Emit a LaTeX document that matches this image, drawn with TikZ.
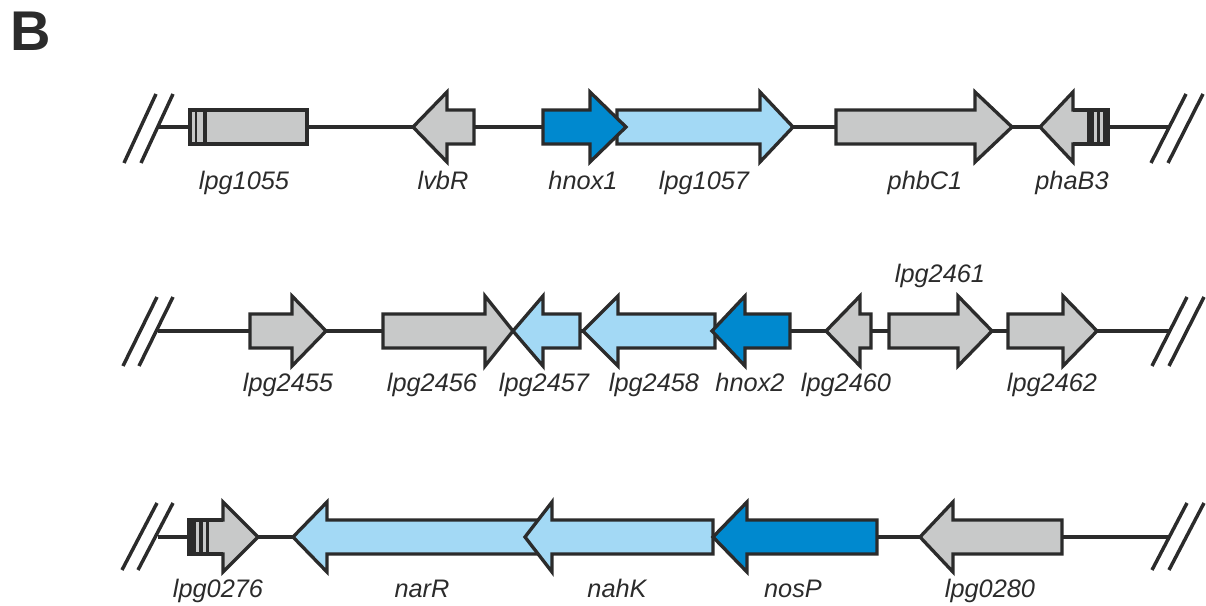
\documentclass[tikz,border=0pt]{standalone}
\usepackage{fontspec}
\setmainfont{Liberation Sans}
\definecolor{edge}{HTML}{2B2B2B}
\definecolor{ggray}{HTML}{C8C9C9}
\definecolor{lblue}{HTML}{A3D9F5}
\definecolor{dblue}{HTML}{0089CF}
\newcommand\geneR[6]{% name, x-start, head base, tip, y, fill
  \draw[genebox, fill=#6] (#2,{#5-17}) -- (#3,{#5-17}) -- (#3,{#5-35}) -- (#4,#5) -- (#3,{#5+35}) -- (#3,{#5+17}) -- (#2,{#5+17}) -- cycle;
  \coordinate (#1) at ({(#2+#4)/2},#5);}
\newcommand\geneL[6]{% name, tip, head base, x-end, y, fill
  \draw[genebox, fill=#6] (#2,#5) -- (#3,{#5-35}) -- (#3,{#5-17}) -- (#4,{#5-17}) -- (#4,{#5+17}) -- (#3,{#5+17}) -- (#3,{#5+35}) -- cycle;
  \coordinate (#1) at ({(#2+#4)/2},#5);}
\newcommand\barmark[3]{% x1, x2, y
  \fill[edge] (#1,{#3-17}) rectangle (#2,{#3+17});}
\begin{document}
\begin{tikzpicture}[x=0.75pt,y=-0.75pt,
  backbone/.style={draw=edge, line width=2.6pt},
  genebox/.style={draw=edge, line width=2.5pt, line join=miter},
  lbl/.style={text=edge, font=\itshape\fontsize{19}{22}\selectfont, inner sep=0pt, anchor=base}]
\useasboundingbox (0,0) rectangle (1206,606);
\node[font=\bfseries\fontsize{42}{42}\selectfont, text=edge, inner sep=0pt] (B) at (31,31) {B};

% ---------- Row 1 ----------
\coordinate (r1s) at (157,127);
\coordinate (r1e) at (1170,127);
\draw[backbone] (r1s) -- (r1e);
\draw[backbone] (124,163) -- (156,94);
\draw[backbone] (141,163) -- (173,94);
\draw[backbone] (1151,163) -- (1186,94);
\draw[backbone] (1168,163) -- (1203,94);
% lpg1055 (striped box)
\draw[genebox, fill=ggray] (190,110) rectangle (307,144);
\coordinate (g1055) at (248,127);
\draw[edge, line width=1.8pt] (196,110) -- (196,144);
\draw[edge, line width=3.2pt] (205,110) -- (205,144);
\geneL{lvbR}{413}{447}{474}{127}{ggray}
\geneR{g1057}{617}{760}{793}{127}{lblue}
\geneR{hnoxA}{543}{590}{626}{127}{dblue}
\geneR{phbC1}{836}{975}{1012}{127}{ggray}
\geneL{phaB3}{1040}{1073}{1108}{127}{ggray}
\barmark{1087}{1094}{127}
\barmark{1097}{1100}{127}
\barmark{1103}{1108}{127}
\draw[genebox] (1073,110) -- (1108,110) -- (1108,144) -- (1073,144);
\node[lbl] (t1055) at (244,190) {lpg1055};
\node[lbl] (tlvbR) at (443,190) {lvbR};
\node[lbl] (thnox1) at (583,190) {hnox1};
\node[lbl] (t1057) at (704,190) {lpg1057};
\node[lbl] (tphbC1) at (925,190) {phbC1};
\node[lbl] (tphaB3) at (1072,190) {phaB3};

% ---------- Row 2 ----------
\coordinate (r2s) at (158,331);
\coordinate (r2e) at (1170,331);
\draw[backbone] (r2s) -- (r2e);
\draw[backbone] (123,366) -- (157,297);
\draw[backbone] (139,366) -- (173,297);
\draw[backbone] (1152,366) -- (1187,297);
\draw[backbone] (1169,366) -- (1204,297);
\geneR{g2455}{250}{292}{326}{331}{ggray}
\geneR{g2456}{383}{485}{513}{331}{ggray}
\geneL{g2457}{513}{543}{580}{331}{lblue}
\geneL{g2458}{583}{618}{715}{331}{lblue}
\geneL{hnoxB}{712}{745}{790}{331}{dblue}
\geneL{g2460}{826}{860}{871}{331}{ggray}
\geneR{g2461}{889}{958}{992}{331}{ggray}
\geneR{g2462}{1008}{1063}{1097}{331}{ggray}
\node[lbl] (t2455) at (288,391) {lpg2455};
\node[lbl] (t2456) at (432,391) {lpg2456};
\node[lbl] (t2457) at (544,391) {lpg2457};
\node[lbl] (t2458) at (654,391) {lpg2458};
\node[lbl] (thnox2) at (750,391) {hnox2};
\node[lbl] (t2460) at (846,391) {lpg2460};
\node[lbl] (t2461) at (940,282) {lpg2461};
\node[lbl] (t2462) at (1052,391) {lpg2462};

% ---------- Row 3 ----------
\coordinate (r3s) at (158,537);
\coordinate (r3e) at (1170,537);
\draw[backbone] (r3s) -- (r3e);
\draw[backbone] (122,570) -- (157,503);
\draw[backbone] (138,570) -- (173,503);
\draw[backbone] (1152,570) -- (1187,503);
\draw[backbone] (1169,570) -- (1204,503);
\geneR{g0276}{189}{223}{258}{537}{ggray}
\barmark{189}{196}{537}
\barmark{199}{203}{537}
\barmark{206}{209}{537}
\draw[genebox] (223,520) -- (189,520) -- (189,554) -- (223,554);
\geneL{narR}{293}{327}{545}{537}{lblue}
\geneL{nahK}{525}{552}{713}{537}{lblue}
\geneL{nosP}{713}{747}{877}{537}{dblue}
\geneL{g0280}{920}{953}{1062}{537}{ggray}
\node[lbl] (t0276) at (218,597) {lpg0276};
\node[lbl] (tnarR) at (422,597) {narR};
\node[lbl] (tnahK) at (617,597) {nahK};
\node[lbl] (tnosP) at (793,597) {nosP};
\node[lbl] (t0280) at (990,597) {lpg0280};
\end{tikzpicture}
\end{document}
